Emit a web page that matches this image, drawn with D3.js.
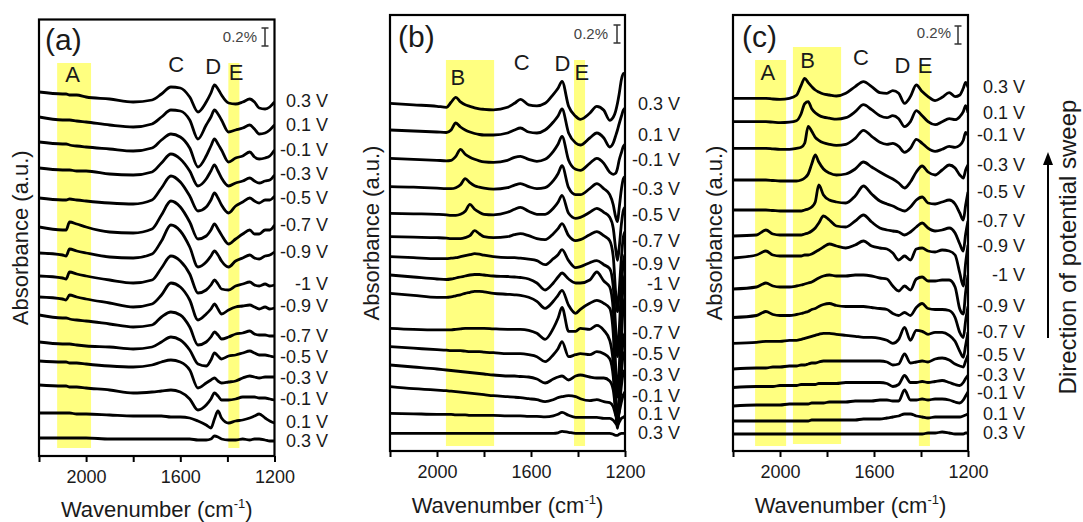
<!DOCTYPE html>
<html>
<head>
<meta charset="utf-8">
<script src="https://cdn.jsdelivr.net/npm/d3@7"></script>
<style>
html,body{margin:0;padding:0;background:#fff;}
svg{display:block;}
text{font-family:"Liberation Sans",Arial,Helvetica,sans-serif;}
</style>
</head>
<body>
<svg id="chart" width="1083" height="522"></svg>
<script>
// ---------------- DATA ----------------
const potentials = ["0.3 V","0.1 V","-0.1 V","-0.3 V","-0.5 V","-0.7 V","-0.9 V","-1 V","-0.9 V","-0.7 V","-0.5 V","-0.3 V","-0.1 V","0.1 V","0.3 V"];
const xDomain = [2200, 1200];
const xTicks = [2200, 2000, 1800, 1600, 1400, 1200];
const xTickLabels = [2000, 1600, 1200];
const scaleBarLabel = "0.2%";
const scaleBarUnits = 18;           // absorbance (a.u.) equivalent of 0.2 %

// Panel (a)
const wavenumbersA = [2200,2100,2085,2070,2040,2000,1900,1800,1720,1680,1640,1600,1560,1525,1490,1470,1455,1440,1425,1395,1365,1335,1305,1285,1265,1240,1220,1200];
const offsetsA = [364,339,314,288,258,229,203,180,159,141,114,95,71,43,18];
const spectraA = [
 [0,-2,-2,-3,-3,-5,-7,-10,-8,-2,5,4,-5,-20,-10,-1,7,3,-3,-11,-12,-10,-7,-10,-16,-17,-15,-10],
 [0,-3,-3,-3,-4,-5,-8,-10,-7,0,7,6,-3,-22,-8,0,7,3,-3,-15,-13,-11,-8,-12,-17,-16,-13,-8],
 [0,-2,-2,-3,-4,-5,-7,-9,-6,2,8,5,-6,-25,-14,-4,3,-2,-8,-20,-16,-14,-10,-15,-17,-16,-14,-8],
 [0,-2,-2,-2,-3,-3,-6,-7,-4,5,14,9,-3,-18,-11,-3,3,-3,-10,-18,-15,-13,-10,-13,-15,-13,-12,-7],
 [0,-2,-2,-1,-2,-3,-5,-6,-2,10,22,16,2,-13,-9,-2,5,0,-7,-15,-8,-4,0,-3,-5,-2,-2,2],
 [0,-3,-3,5,3,0,-5,-6,-2,12,26,20,5,-12,-9,-3,3,-2,-8,-17,-12,-7,-3,-7,-7,-3,-3,2],
 [0,-2,-3,4,2,0,-4,-5,-1,12,28,22,6,-14,-9,-3,2,-2,-8,-14,-8,-5,-2,-5,-6,-3,-2,1],
 [0,-2,-3,4,2,0,-4,-7,-4,8,20,15,2,-17,-14,-9,-4,-8,-13,-14,-10,-8,-6,-9,-10,-8,-10,-9],
 [0,-2,-3,2,0,-2,-6,-10,-7,2,14,10,-3,-23,-17,-12,-7,-12,-17,-13,-10,-9,-8,-10,-12,-10,-12,-11],
 [0,-3,-3,-4,-5,-6,-9,-12,-10,-2,3,0,-12,-30,-27,-22,-17,-20,-24,-22,-19,-18,-16,-19,-20,-20,-21,-21],
 [0,-2,-2,-2,-3,-4,-5,-7,-5,0,5,2,-8,-22,-24,-18,-11,-14,-17,-14,-13,-11,-9,-11,-13,-13,-14,-15],
 [0,-1,-1,-2,-2,-3,-5,-6,-4,-1,1,-1,-9,-27,-22,-19,-17,-20,-22,-21,-20,-17,-15,-16,-17,-16,-16,-16],
 [0,-1,-1,-2,-2,-3,-5,-8,-7,-6,-5,-7,-14,-25,-20,-14,-8,-11,-15,-15,-14,-12,-12,-12,-13,-13,-14,-15],
 [0,0,0,0,-1,-1,-2,-3,-3,-3,-4,-4,-5,-8,-12,-15,-6,2,-5,-10,-8,-7,-5,-3,-1,-5,-8,-10],
 [0,0,0,0,0,0,-1,-1,-1,-1,-1,-1,-1,-2,-2,-1,2,1,-1,-2,-2,-1,-2,-1,-1,-2,-3,-3]
];
const bandsA = [{name:"A", from:2123, to:1979}, {name:"E", from:1396, to:1349}];
const peaksA = [["A",2057],["C",1617],["D",1460],["E",1363]];

// Panel (b)
const wavenumbersB = [2200,2100,2000,1960,1940,1920,1900,1880,1860,1840,1820,1800,1760,1700,1670,1645,1610,1575,1540,1505,1485,1468,1440,1410,1390,1350,1320,1290,1265,1250,1240,1232,1225,1215,1207,1200];
const offsetsB = [347.7,321,292.7,264.3,237.7,214.3,194.3,176,157.7,122.7,104.3,86,64.3,37.7,17.7];
const spectraB = [
 [0,-1.5,-3,-4,1,6,1.5,-1.5,-3,-4.5,-5.5,-6,-6.5,-4,0,4,-1.5,-2.5,0,9,15,22,-3,-13,-16,-10,-3,-7,-17,-14,-8,0,9,24,30,29],
 [0,-1,-2,-2.5,0,7,3,0,-2,-3.5,-4.5,-5,-5,-3,0,2,-2,-3,0,8,14,21,-3,-13,-15,-8,-3,-8,-17,-13,-6,0,6,14,20,22],
 [0,-1,-2,-2.5,-2,2,9,4,1,-1,-2.5,-3.5,-4,-2,1,2,-1,-3,-1,7,14,22,-2,-11,-12,-5,0,-5,-14,-16,-15,-10,-2,6,12,14],
 [0,-0.5,-1.5,-2,-2,-1,2,8,4,1,-0.5,-1.5,-2.5,-1,1.5,3,0,-2,-1,6,13,21,-1,-8,-8,-2,3,-2,-8,-18,-30,-35,-22,-2,8,10],
 [0,-0.5,-1,-1.5,-2,-2,-1,2,9,4,1,-1,-1.5,1,4,6,2,-1,-1,5,11,18,0,-5,-4,1,5,1,-4,-15,-35,-47,-35,-10,3,6],
 [0,-0.5,-1,-1.5,-2,-2,-2,-1,1,6,3,0,-1,0,2,3,1,-2,-3,3,8,13,1,-4,-3,2,5,1,-4,-20,-55,-75,-55,-20,0,5],
 [0,-1,-2,-2,-1.5,-1,0,1,2,3,2.5,1.5,0,-1,-1,-1.5,-2.5,-4,-8,-2,2,7,-4,-11,-10,-6,-4,-8,-12,-30,-70,-100,-75,-30,-5,2],
 [0,-2,-4,-4.5,-4,-3,-2,-1,0,0.5,0.5,0,-1,-1.5,-2,-2.5,-4,-8,-15,-8,-2,2,-4,-8,-8,-5,3,-6,-12,-35,-90,-122,-95,-40,-8,0],
 [0,-2,-4,-4,-3.5,-2.5,-1.5,0,1,2,2,1.5,0,-1,-1.5,-2,-4,-8,-15,-8,-2,3,-12,-20,-16,-10,-7,-10,-15,-40,-100,-133,-105,-45,-12,-5],
 [0,-1,-1.5,-1.5,-1.5,-1,-0.5,0,0,0,0,0,-0.5,-1,-1,-1,-2,-5,-11,0,10,21,-3,-3,0,-1,3,-2,-12,-35,-80,-100,-80,-35,-10,-5],
 [0,-1.5,-3,-3.5,-4,-4,-4,-4.5,-5,-5,-5,-5.5,-6,-7,-7,-7,-8,-10,-15,-8,-2,5,-10,-8,-7,-8,-5,-7,-12,-30,-62,-78,-60,-25,-8,-5],
 [0,-2,-4,-5,-5.5,-6,-6.5,-7,-7.5,-8,-8.5,-9,-10,-11,-11,-11.5,-12,-14,-18,-14,-12,-11,-15,-11,-10,-12,-13,-13,-16,-25,-45,-57,-45,-20,-8,-5],
 [0,-2,-3.5,-4,-4.5,-5,-5.5,-6,-6.5,-7,-7.5,-8,-9,-10,-10.5,-11,-12,-13,-15,-13,-11,-10,-9,-10,-12,-14,-13,-15,-16,-20,-28,-32,-26,-15,-8,-5],
 [0,-0.5,-1,-1,-1,-1.5,-1.5,-1.5,-2,-2,-2,-2,-2,-2.5,-2.5,-2.5,-3,-3,-3.5,-2.5,-1,1,-2,-4,-4,-4,-4,-5,-5,-7,-10,-12,-9,-5,-4,-3],
 [0,0,0,0,0,0,0,0,0,0,0,0,0,0,0,0,0,0,0,0,0.5,2,1,0,0,0,0,0,0,-1,-2,-2,-1,0,0,0]
];
const bandsB = [{name:"B", from:1962, to:1757}, {name:"E", from:1417, to:1370}];
const peaksB = [["B",1911],["C",1640],["D",1466],["E",1384]];

// Panel (c)
const wavenumbersC = [2200,2100,2060,2030,2000,1960,1930,1910,1895,1880,1865,1850,1835,1815,1790,1760,1720,1680,1645,1610,1575,1545,1520,1495,1470,1445,1420,1395,1370,1340,1310,1280,1255,1235,1220,1210,1200];
const offsetsC = [352.7,329.3,302.7,271,241,215,193,162,133.5,107.7,82,63.5,45,30,17];
const spectraC = [
 [0,0,0,-0.7,-1,0,3,13,20,15.7,11.7,8.3,6.3,4.3,3.3,2.3,5,11.7,16.7,11.7,5.7,5,7.7,5,-5,1.7,13.3,6.7,1.7,-2.3,1,5.7,1.7,3.3,10,16,11],
 [0,0,0,-0.5,-1,-0.5,1,8,18,20,13,9,6.5,4.5,3.5,2.5,4,10,17,12,6,4,6,3,-5,0,11,6,0,-3,0,3,2,5,10,16,9],
 [0,0,0,-0.5,-1,-1,0,1,5,22,17,11,8,5.5,4,3,4,10,18,12,6,4,5,2,-4,0,9,5,0,-3,-1,2,1,3,8,16,13],
 [0,0,0,-0.5,-1,-1,-1,0,2,6,16,25,18,11,7,5,6,11,18,13,8,4,1,-3,-8,-2,8,14,8,5,10,15,12,5,2,10,15],
 [0,0,0,-0.5,-1,-1,-1,-1,0,1,3,8,25,15,10,8,7,14,24,16,9,6,4,1,-1,3,10,13,7,6,8,10,6,-3,-10,5,18],
 [0,1,6,2,1,1,1,1,2,3,5,8,13,20,16,10,9,15,21,14,8,6,5,4,1,4,9,13,8,5,6,8,3,-8,-15,2,15],
 [0,3,7,3,2,2,2,2,3,3,4,6,8,11,14,12,10,13,17,12,10,9,5,-2,2,-2,9,10,7,6,8,7,3,-15,-28,-5,13],
 [0,2,6,3,2,2,3,4,5,6,7,9,11,13,14,13,13,14,14,13,11,10,3,-2,3,-1,10,12,8,8,9,9,2,-20,-25,-3,14],
 [0,2,6,3,2,2,3,4,5,6,8,9,11,13,14,12,11,11,11,10,9,8,4,2,5,2,10,14,9,8,8,7,0,-15,-20,-3,11],
 [0,1,2,2,2,3,3,4,5,6,7,8,9,10,10,9,8,7,6,6,5,3,0,4,16,3,13,12,9,11,11,8,2,-8,-14,-2,11],
 [0,1,1,2,2,3,3,4,4,5,6,6,7,8,8,8,8,8,8,8,8,7,4,5,15,6,7,8,7,10,11,9,5,3,2,8,14],
 [0,1,1,1,2,2,2,3,3,3,3,3,4,4,4,4,5,5,5,5,5,4,1,3,12,5,5,6,5,6,7,5,3,2,5,9,12],
 [0,1,1,1,1,2,2,2,2,2,3,3,3,3,4,4,4,5,5,5,6,6,5,5,16,6,6,7,6,7,7,6,4,3,6,10,14],
 [0,0,0,0,0,0,0,0,0,0,1,1,1,1,1,1,1,1,2,2,2,3,4,5,7,7,5,4,3,4,4,4,4,4,5,6,7],
 [0,0,0,0,0,0,0,0,0,0,0,0,0,0,0,0,0,0,0,0,0,0,0,0,0,0,0,0,1,1,2,1,0,0,0,1,1]
];
const bandsC = [{name:"A", from:2106, to:1974}, {name:"B", from:1945, to:1740}, {name:"E", from:1409, to:1362}];
const peaksC = [["A",2052],["B",1883],["C",1656],["D",1479],["E",1383]];

// ---------------- LAYOUT ----------------
const layoutA = {box:{l:39,r:274.5,t:19.5,b:456}, bandY:[[63,448],[63,448]], peakY:[82,72,74,80],
  tag:[45,50], bar:{x:265, top:28, textX:257, textY:42}, labelX:328,
  labelY:[101,125,150,174,198,225,252,284,306,336,357,378,399,422,441], yTitleX:28, xTitleY:517};
const layoutB = {box:{l:390,r:625,t:15,b:451}, bandY:[[60,446],[60,446]], peakY:[85,70,71,80],
  tag:[398,47], bar:{x:617, top:25, textX:608, textY:39}, labelX:680,
  labelY:[104,135,160,189,215,241,264,284,306,333,354,375,396,414,433], yTitleX:379, xTitleY:513};
const layoutC = {box:{l:733,r:968,t:15,b:451}, bandY:[[60,446],[47,444],[65,446]], peakY:[80,68,65,73,73],
  tag:[742,47], bar:{x:958, top:26, textX:951, textY:38}, labelX:1025,
  labelY:[87,113,135,165,192,221,246,275,306,332,355,375,393,414,433], yTitleX:722, xTitleY:513};

const panels = [
  {tag:"(a)", wn:wavenumbersA, spectra:spectraA, offsets:offsetsA, bands:bandsA, peaks:peaksA, lay:layoutA},
  {tag:"(b)", wn:wavenumbersB, spectra:spectraB, offsets:offsetsB, bands:bandsB, peaks:peaksB, lay:layoutB},
  {tag:"(c)", wn:wavenumbersC, spectra:spectraC, offsets:offsetsC, bands:bandsC, peaks:peaksC, lay:layoutC}
];

const TXT = "#1a1a1a";
const svg = d3.select("#chart");
const defs = svg.append("defs");

panels.forEach((p, pi) => {
  const L = p.lay, B = L.box;
  const x = d3.scaleLinear().domain(xDomain).range([B.l, B.r]);
  const y = d3.scaleLinear().domain([0, B.b - B.t]).range([B.b, B.t]);
  const g = svg.append("g");

  // highlight bands
  p.bands.forEach((bd, i) => {
    g.append("rect")
      .attr("x", x(bd.from)).attr("width", x(bd.to) - x(bd.from))
      .attr("y", L.bandY[i][0]).attr("height", L.bandY[i][1] - L.bandY[i][0])
      .attr("fill", "#ffff80");
  });

  // peak letters
  p.peaks.forEach((pk, i) => {
    g.append("text").attr("x", x(pk[1])).attr("y", L.peakY[i])
      .attr("text-anchor", "middle").attr("font-size", 22).attr("fill", TXT).text(pk[0]);
  });

  // clip
  const cid = "clip" + pi;
  defs.append("clipPath").attr("id", cid).append("rect")
    .attr("x", B.l).attr("y", B.t).attr("width", B.r - B.l).attr("height", B.b - B.t);

  const line = d3.line()
    .x((d, i) => x(p.wn[i]))
    .y(d => y(d))
    .curve(d3.curveMonotoneX);

  p.spectra.forEach((s, k) => {
    const vals = s.map(v => v + p.offsets[k]);
    g.append("path").attr("d", line(vals))
      .attr("fill", "none").attr("stroke", "#000").attr("stroke-width", 2.8)
      .attr("stroke-linejoin", "round").attr("clip-path", `url(#${cid})`);
    g.append("text").attr("x", L.labelX).attr("y", L.labelY[k]).attr("dy", "0.35em")
      .attr("text-anchor", "end").attr("font-size", 18).attr("fill", TXT).text(potentials[k]);
  });

  // frame
  g.append("rect").attr("x", B.l).attr("y", B.t).attr("width", B.r - B.l).attr("height", B.b - B.t)
    .attr("fill", "none").attr("stroke", "#000").attr("stroke-width", 2.2);

  // x axis
  const ax = d3.axisBottom(x).tickValues(xTicks).tickSize(6).tickPadding(8)
    .tickFormat(d => xTickLabels.includes(d) ? d : "");
  const ga = g.append("g").attr("transform", `translate(0,${B.b})`).call(ax);
  ga.select(".domain").remove();
  ga.selectAll(".tick line").attr("stroke", "#000").attr("stroke-width", 2);
  ga.selectAll(".tick text").attr("font-size", 18).attr("fill", TXT);

  // panel tag
  g.append("text").attr("x", L.tag[0]).attr("y", L.tag[1]).attr("font-size", 30).attr("fill", TXT).text(p.tag);

  // scale bar
  const barLen = y(0) - y(scaleBarUnits);
  const bx = L.bar.x, bt = L.bar.top;
  g.append("path")
    .attr("d", `M${bx},${bt}V${bt + barLen}M${bx - 3.5},${bt}H${bx + 3.5}M${bx - 3.5},${bt + barLen}H${bx + 3.5}`)
    .attr("stroke", "#333").attr("stroke-width", 1.5).attr("fill", "none");
  g.append("text").attr("x", L.bar.textX).attr("y", L.bar.textY).attr("text-anchor", "end")
    .attr("font-size", 15).attr("fill", "#444").text(scaleBarLabel);

  // axis titles
  const xt = g.append("text").attr("x", (B.l + B.r) / 2).attr("y", L.xTitleY)
    .attr("text-anchor", "middle").attr("font-size", 22).attr("fill", TXT);
  xt.append("tspan").text("Wavenumber (cm");
  xt.append("tspan").attr("font-size", 13).attr("dy", -9).text("-1");
  xt.append("tspan").attr("dy", 9).text(")");

  g.append("text").attr("transform", `translate(${L.yTitleX},${(B.t + B.b) / 2}) rotate(-90)`)
    .attr("text-anchor", "middle").attr("font-size", 22).attr("fill", TXT).text("Absorbance (a.u.)");
});

// direction of potential sweep
svg.append("line").attr("x1", 1048).attr("x2", 1048).attr("y1", 338).attr("y2", 160)
  .attr("stroke", "#000").attr("stroke-width", 2);
svg.append("path").attr("d", "M1048,152L1053,165L1043,165Z").attr("fill", "#000");
svg.append("text").attr("transform", "translate(1076,247) rotate(-90)")
  .attr("text-anchor", "middle").attr("font-size", 24).attr("fill", TXT).text("Direction of potential sweep");
</script>
</body>
</html>
